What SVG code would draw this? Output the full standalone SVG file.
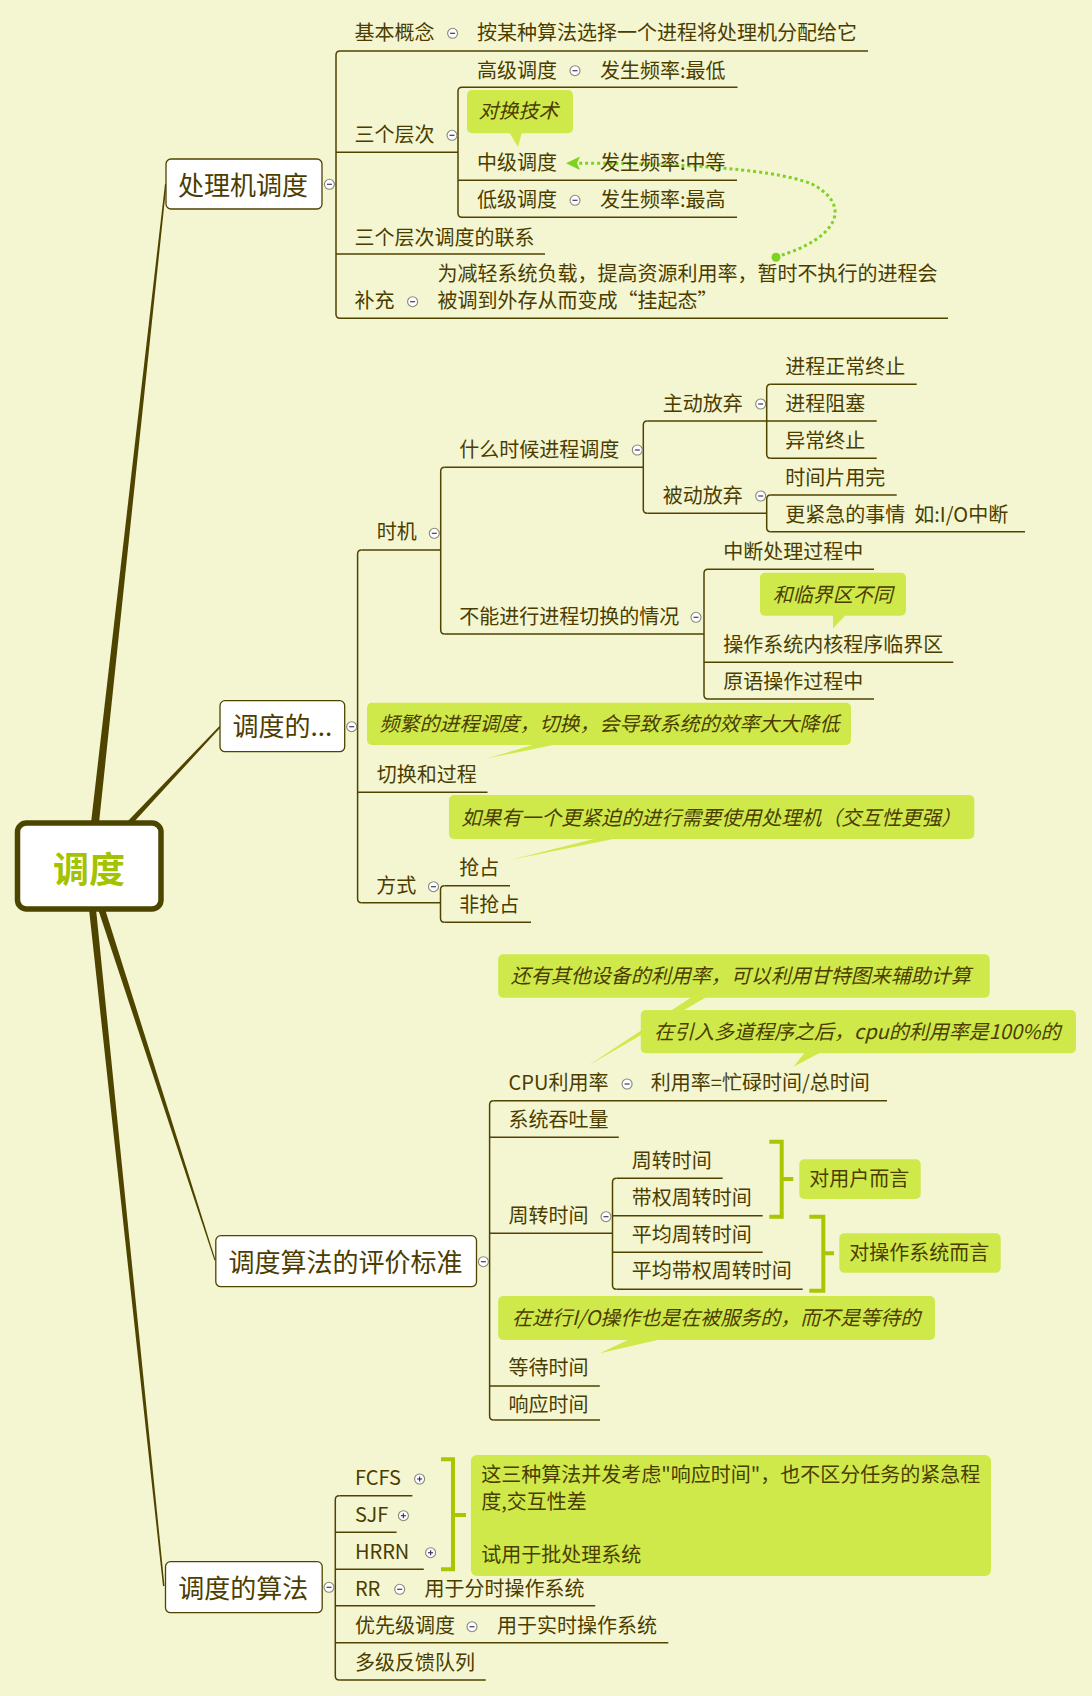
<svg xmlns="http://www.w3.org/2000/svg" width="1092" height="1696" viewBox="0 0 1092 1696">
<style>
.t{font-family:"Noto Sans CJK SC","Noto Sans",sans-serif;font-size:20px;fill:#4b3d00}
.n{font-size:26px}
.i{font-style:italic}
.ln{stroke:#4f4300;stroke-width:1.5;fill:none}
.box{fill:#ffffff;stroke:#4f4300;stroke-width:1.3}
.co{fill:#cfe94a}
.gb{stroke:#a9c600;stroke-width:4;fill:none}
.br{fill:#4f4300}
</style>
<defs>
<g id="cm"><circle r="5" fill="#ffffff" stroke="#86867a" stroke-width="1.1"/><line x1="-2.5" x2="2.5" y1="0" y2="0" stroke="#3a3a6a" stroke-width="1.2"/></g>
<g id="cp"><circle r="5" fill="#ffffff" stroke="#86867a" stroke-width="1.1"/><line x1="-2.5" x2="2.5" y1="0" y2="0" stroke="#3a3a6a" stroke-width="1.2"/><line y1="-2.5" y2="2.5" x1="0" x2="0" stroke="#3a3a6a" stroke-width="1.2"/></g>
</defs>
<rect width="1092" height="1696" fill="#f4f6d1"/>

<g id="connectors">
<polygon class="br" points="91,823 99,823 166.5,184 165,184"/>
<polygon class="br" points="126,823 133,823 220.5,727.5 219.5,726"/>
<polygon class="br" points="98,909 105,909 215.5,1260 214.5,1260.5"/>
<polygon class="br" points="89,909 96,909 164.5,1586 163,1586"/>

<path class="ln" d="M340,51 Q336,51 336,55 L336,314.3 Q336,318.3 340,318.3"/>
<path class="ln" d="M340,51 H868 M336,152.3 H458 M336,254 H545 M340,318.3 H948"/>
<path class="ln" d="M462,87.3 Q458,87.3 458,91.3 L458,213.3 Q458,217.3 462,217.3"/>
<path class="ln" d="M462,87.3 H737.5 M458,180.3 H737 M462,217.3 H737"/>

<path class="ln" d="M361.6,550 Q357.6,550 357.6,554 L357.6,898.7 Q357.6,902.7 361.6,902.7"/>
<path class="ln" d="M361.6,550 H440.7 M357.6,792.3 H487.5 M361.6,902.7 H440.5"/>
<path class="ln" d="M444.7,467.3 Q440.7,467.3 440.7,471.3 L440.7,630 Q440.7,634 444.7,634"/>
<path class="ln" d="M444.7,467.3 H643.3 M444.7,634 H704"/>
<path class="ln" d="M647.3,421 Q643.3,421 643.3,425 L643.3,509.3 Q643.3,513.3 647.3,513.3"/>
<path class="ln" d="M647.3,421 H766.7 M647.3,513.3 H766.7"/>
<path class="ln" d="M770.7,384.3 Q766.7,384.3 766.7,388.3 L766.7,454.3 Q766.7,458.3 770.7,458.3"/>
<path class="ln" d="M770.7,384.3 H916.7 M766.7,421 H876.7 M770.7,458.3 H876.7"/>
<path class="ln" d="M770.7,495 Q766.7,495 766.7,499 L766.7,527.7 Q766.7,531.7 770.7,531.7"/>
<path class="ln" d="M770.7,495 H896.7 M770.7,531.7 H1025"/>
<path class="ln" d="M708,569.3 Q704,569.3 704,573.3 L704,695 Q704,699 708,699"/>
<path class="ln" d="M708,569.3 H874 M704,662.3 H953.3 M708,699 H874"/>
<path class="ln" d="M444.5,885.7 Q440.5,885.7 440.5,889.7 L440.5,918.3 Q440.5,922.3 444.5,922.3"/>
<path class="ln" d="M444.5,885.7 H510 M444.5,922.3 H531"/>

<path class="ln" d="M493.6,1100.7 Q489.6,1100.7 489.6,1104.7 L489.6,1416 Q489.6,1420 493.6,1420"/>
<path class="ln" d="M493.6,1100.7 H887 M489.6,1137.3 H618.8 M489.6,1233.3 H612.5 M489.6,1386 H599.8 M493.6,1420 H600"/>
<path class="ln" d="M616.5,1178.3 Q612.5,1178.3 612.5,1182.3 L612.5,1285.3 Q612.5,1289.3 616.5,1289.3"/>
<path class="ln" d="M616.5,1178.3 H722.7 M612.5,1215.7 H762.7 M612.5,1252.3 H762.7 M616.5,1289.3 H802.7"/>

<path class="ln" d="M339.3,1495.7 Q335.3,1495.7 335.3,1499.7 L335.3,1676 Q335.3,1680 339.3,1680"/>
<path class="ln" d="M339.3,1495.7 H412.4 M335.3,1532.3 H396.6 M335.3,1569.3 H423.8 M335.3,1605.7 H595.2 M335.3,1642.7 H668.3 M339.3,1680 H485.7"/>

<path class="gb" d="M769.3,1141.7 H781.7 V1216.7 H769.3 M781.7,1179 H793.3"/>
<path class="gb" d="M809.3,1216.7 H823.3 V1290.7 H809.3 M823.3,1253.3 H834"/>
<path class="gb" d="M441,1459.3 H453 V1569.3 H441 M453,1515 H466"/>

<path d="M776,257 C840,238 852,205 812,184 C770,167 660,163 578,163.3" fill="none" stroke="#7ed321" stroke-width="3" stroke-dasharray="3 3"/>
<circle cx="776" cy="257.3" r="4.5" fill="#7ed321"/>
<polygon points="566,163.3 580,156.5 577,163.3 580,170" fill="#7ed321"/>
</g>

<g id="root">
<rect x="17.5" y="823" width="143.5" height="86" rx="9" fill="#ffffff" stroke="#4b4500" stroke-width="5.5"/>
<text x="89" y="883" text-anchor="middle" font-family="'Noto Sans CJK SC',sans-serif" font-size="36" font-weight="bold" fill="#a3c200">调度</text>
</g>

<g id="n-cpu-sched">
<rect class="box" x="166" y="159" width="156" height="50" rx="5"/>
<text class="t n" x="178" y="194.5">处理机调度</text>
<use href="#cm" x="329.4" y="184.3"/>
</g>
<g id="n-basic">
<text class="t" x="354.5" y="40">基本概念</text>
<use href="#cm" x="452.6" y="33.3"/>
<text class="t" x="477" y="40">按某种算法选择一个进程将处理机分配给它</text>
</g>
<g id="n-levels">
<text class="t" x="354.5" y="141.5">三个层次</text>
<use href="#cm" x="452" y="135.3"/>
</g>
<g id="n-high">
<text class="t" x="477" y="77.5">高级调度</text>
<use href="#cm" x="575" y="70.7"/>
<text class="t" x="600" y="77.5">发生频率:最低</text>
</g>
<g id="c-swap">
<rect class="co" x="467" y="90" width="106" height="43.3" rx="5"/>
<polygon class="co" points="509,132 522,132 518,147"/>
<text class="t i" x="478.6" y="118">对换技术</text>
</g>
<g id="n-mid">
<text class="t" x="477" y="170">中级调度</text>
<text class="t" x="600" y="170">发生频率:中等</text>
</g>
<g id="n-low">
<text class="t" x="477" y="206.5">低级调度</text>
<use href="#cm" x="575" y="200.3"/>
<text class="t" x="600" y="206.5">发生频率:最高</text>
</g>
<g id="n-relation">
<text class="t" x="354.5" y="245">三个层次调度的联系</text>
</g>
<g id="n-supp">
<text class="t" x="354.5" y="308">补充</text>
<use href="#cm" x="412.6" y="301.7"/>
<text class="t" x="437.5" y="281">为减轻系统负载，提高资源利用率，暂时不执行的进程会</text>
<text class="t" x="437.5" y="308">被调到外存从而变成“挂起态”</text>
</g>

<g id="n-switch">
<rect class="box" x="220" y="700.7" width="124.7" height="51" rx="5"/>
<text class="t n" x="232.6" y="736">调度的...</text>
<use href="#cm" x="351.7" y="726.7"/>
</g>
<g id="n-timing">
<text class="t" x="376.7" y="539">时机</text>
<use href="#cm" x="434.3" y="533.3"/>
</g>
<g id="n-when">
<text class="t" x="459.3" y="456.5">什么时候进程调度</text>
<use href="#cm" x="637.3" y="450"/>
</g>
<g id="n-active">
<text class="t" x="662.7" y="411">主动放弃</text>
<use href="#cm" x="760.7" y="404"/>
<text class="t" x="785.3" y="373.5">进程正常终止</text>
<text class="t" x="785.3" y="411">进程阻塞</text>
<text class="t" x="785.3" y="447.5">异常终止</text>
</g>
<g id="n-passive">
<text class="t" x="662.7" y="503">被动放弃</text>
<use href="#cm" x="760.7" y="496"/>
<text class="t" x="785.3" y="484.5">时间片用完</text>
<text class="t" x="785.3" y="521.5" xml:space="preserve">更紧急的事情  如:I/O中断</text>
</g>
<g id="n-cannot">
<text class="t" x="459.3" y="624">不能进行进程切换的情况</text>
<use href="#cm" x="696" y="617.3"/>
<text class="t" x="723.3" y="558.5">中断处理过程中</text>
<text class="t" x="723.3" y="651.5">操作系统内核程序临界区</text>
<text class="t" x="723.3" y="688.5">原语操作过程中</text>
</g>
<g id="c-critical">
<rect class="co" x="760" y="572.7" width="146" height="43" rx="5"/>
<polygon class="co" points="833,614.7 846,614.7 833,628.5"/>
<text class="t i" x="772.7" y="601.5">和临界区不同</text>
</g>
<g id="c-frequent">
<rect class="co" x="367" y="702.7" width="484" height="42.3" rx="5"/>
<polygon class="co" points="536,744 558,744 487.5,758.3"/>
<text class="t i" x="379.5" y="731">频繁的进程调度，切换，会导致系统的效率大大降低</text>
</g>
<g id="n-process">
<text class="t" x="376.7" y="781.5">切换和过程</text>
</g>
<g id="c-urgent">
<rect class="co" x="449" y="795" width="525.3" height="44" rx="5"/>
<polygon class="co" points="598,838 618,838 510,860"/>
<text class="t i" x="461.2" y="825">如果有一个更紧迫的进行需要使用处理机（交互性更强）</text>
</g>
<g id="n-mode">
<text class="t" x="376.3" y="893">方式</text>
<use href="#cm" x="433.5" y="886.7"/>
<text class="t" x="459.2" y="875">抢占</text>
<text class="t" x="459.2" y="912">非抢占</text>
</g>

<g id="n-criteria">
<rect class="box" x="215.8" y="1235.7" width="260.7" height="51" rx="5"/>
<text class="t n" x="228.6" y="1272">调度算法的评价标准</text>
<use href="#cm" x="483.4" y="1261.7"/>
</g>
<g id="c-other">
<rect class="co" x="498.2" y="954.3" width="491.5" height="43.4" rx="5"/>
<polygon class="co" points="692,996.7 707,996.7 587.6,1066"/>
<text class="t i" x="510.7" y="983">还有其他设备的利用率，可以利用甘特图来辅助计算</text>
</g>
<g id="c-multi">
<rect class="co" x="640.8" y="1010" width="435.2" height="43.3" rx="5"/>
<polygon class="co" points="805,1052.3 821,1052.3 793.4,1066.7"/>
<text class="t i" x="654" y="1038.5">在引入多道程序之后，cpu的利用率是100%的</text>
</g>
<g id="n-cpu-util">
<text class="t" x="508.6" y="1090">CPU利用率</text>
<use href="#cm" x="627.1" y="1084"/>
<text class="t" x="650.8" y="1090">利用率=忙碌时间/总时间</text>
</g>
<g id="n-throughput">
<text class="t" x="508.6" y="1126.5">系统吞吐量</text>
</g>
<g id="n-turnaround">
<text class="t" x="508.5" y="1223">周转时间</text>
<use href="#cm" x="606" y="1216.7"/>
<text class="t" x="631.7" y="1168">周转时间</text>
<text class="t" x="631.7" y="1205">带权周转时间</text>
<text class="t" x="631.7" y="1241.5">平均周转时间</text>
<text class="t" x="631.7" y="1278">平均带权周转时间</text>
</g>
<g id="s-user">
<rect class="co" x="799.3" y="1159.3" width="121.4" height="39.7" rx="5"/>
<text class="t" x="809.3" y="1186">对用户而言</text>
</g>
<g id="s-os">
<rect class="co" x="839.3" y="1233.3" width="161.4" height="39.4" rx="5"/>
<text class="t" x="849.3" y="1260">对操作系统而言</text>
</g>
<g id="c-io">
<rect class="co" x="498.2" y="1296" width="436.8" height="44" rx="5"/>
<polygon class="co" points="630,1339 662,1339 599.8,1353.3"/>
<text class="t i" x="512" y="1325">在进行I/O操作也是在被服务的，而不是等待的</text>
</g>
<g id="n-wait">
<text class="t" x="508.5" y="1375">等待时间</text>
</g>
<g id="n-response">
<text class="t" x="508.5" y="1411.5">响应时间</text>
</g>

<g id="n-algos">
<rect class="box" x="165.5" y="1561.7" width="156.7" height="51" rx="5"/>
<text class="t n" x="178.2" y="1597.5">调度的算法</text>
<use href="#cm" x="329" y="1587.3"/>
</g>
<g id="n-fcfs">
<text class="t" x="354.9" y="1485">FCFS</text>
<use href="#cp" x="419.6" y="1479"/>
</g>
<g id="n-sjf">
<text class="t" x="354.9" y="1521.5">SJF</text>
<use href="#cp" x="403.4" y="1515.7"/>
</g>
<g id="n-hrrn">
<text class="t" x="354.9" y="1558.5">HRRN</text>
<use href="#cp" x="430.6" y="1552.7"/>
</g>
<g id="s-batch">
<rect class="co" x="470.9" y="1455" width="520.1" height="121" rx="6"/>
<text class="t" x="481.2" y="1482">这三种算法并发考虑"响应时间"，也不区分任务的紧急程</text>
<text class="t" x="481.2" y="1509">度,交互性差</text>
<text class="t" x="481.2" y="1562">试用于批处理系统</text>
</g>
<g id="n-rr">
<text class="t" x="354.9" y="1595.5">RR</text>
<use href="#cm" x="399.7" y="1589.3"/>
<text class="t" x="424.4" y="1595.5">用于分时操作系统</text>
</g>
<g id="n-priority">
<text class="t" x="354.9" y="1632.5">优先级调度</text>
<use href="#cm" x="472" y="1626.7"/>
<text class="t" x="497.1" y="1632.5">用于实时操作系统</text>
</g>
<g id="n-mlfq">
<text class="t" x="354.9" y="1670">多级反馈队列</text>
</g>
</svg>
